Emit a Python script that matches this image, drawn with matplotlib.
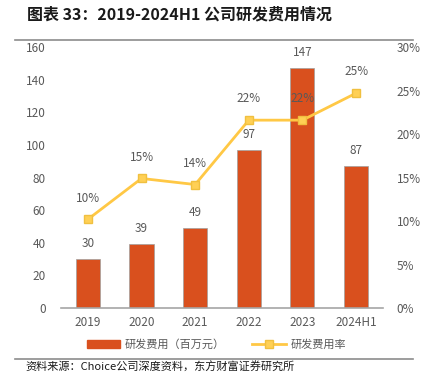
import matplotlib.pyplot as plt
from matplotlib.lines import Line2D
from matplotlib.patches import Patch

plt.rcParams['font.family'] = ['Noto Sans CJK SC', 'DejaVu Sans']

years = ['2019', '2020', '2021', '2022', '2023', '2024H1']
rd_cost = [30, 39, 49, 97, 147, 87]
rd_rate = [10.2, 14.9, 14.2, 21.6, 21.6, 24.7]
rate_labels = ['10%', '15%', '14%', '22%', '22%', '25%']

bar_color = '#D9501E'
line_color = '#FFC845'
grey = '#595959'

fig = plt.figure(figsize=(4.24, 3.89), dpi=100)
ax = fig.add_axes([0.144, 0.208, 0.759, 0.671])
x = range(len(years))
ax.bar(x, rd_cost, width=0.45, color=bar_color, edgecolor='#A0A0A0', linewidth=0.5, zorder=2)
ax.set_ylim(0, 160)
ax.set_yticks(range(0, 161, 20))
ax.set_xlim(-0.5, 5.5)
ax.set_xticks(list(x))
ax.set_xticklabels(years)
for s in ['top', 'right', 'left']:
    ax.spines[s].set_visible(False)
ax.spines['bottom'].set_color('#A6A6A6')
ax.spines['bottom'].set_linewidth(1.2)
ax.tick_params(length=0, labelsize=8.5, colors=grey, pad=6)
ax.tick_params(axis='y', pad=11)
for i, v in enumerate(rd_cost):
    ax.text(i, v + 5.5, str(v), ha='center', va='bottom', fontsize=8.5, color=grey)

ax2 = ax.twinx()
ax2.plot(x, rd_rate, color=line_color, linewidth=2, marker='s', markersize=6,
         markerfacecolor='#FFD055', markeredgecolor='#F0C040', zorder=3)
ax2.set_ylim(0, 30)
ax2.set_yticks(range(0, 31, 5))
ax2.set_yticklabels([f'{v}%' for v in range(0, 31, 5)])
for s in ['top', 'right', 'left', 'bottom']:
    ax2.spines[s].set_visible(False)
ax2.tick_params(length=0, labelsize=8.5, colors=grey, pad=10)
for i, (v, t) in enumerate(zip(rd_rate, rate_labels)):
    ax2.text(i, v + 1.7, t, ha='center', va='bottom', fontsize=8.5, color=grey)

fig.text(0.064, 0.962, '图表 33：2019-2024H1 公司研发费用情况', fontsize=11.5,
         fontweight='bold', va='center', ha='left', color='#1a1a1a')
fig.add_artist(Line2D([0.035, 0.975], [0.897, 0.897], color='#8C8C8C', linewidth=1.2))

handles = [Patch(color=bar_color),
           Line2D([0], [0], color=line_color, linewidth=2, marker='s', markersize=6,
                  markerfacecolor='#FFD055', markeredgecolor='#F0C040')]
fig.legend(handles, ['研发费用（百万元）', '研发费用率'], loc='center', bbox_to_anchor=(0.51, 0.115),
           ncol=2, frameon=False, fontsize=8, labelcolor=grey, handlelength=3, columnspacing=2.5,
           handletextpad=0.4)
fig.add_artist(Line2D([0.035, 0.975], [0.077, 0.077], color='#8C8C8C', linewidth=1.2))
fig.text(0.06, 0.055, '资料来源：Choice公司深度资料，东方财富证券研究所', fontsize=8, va='center',
         ha='left', color='#1a1a1a')

fig.savefig('out.png', dpi=100)
